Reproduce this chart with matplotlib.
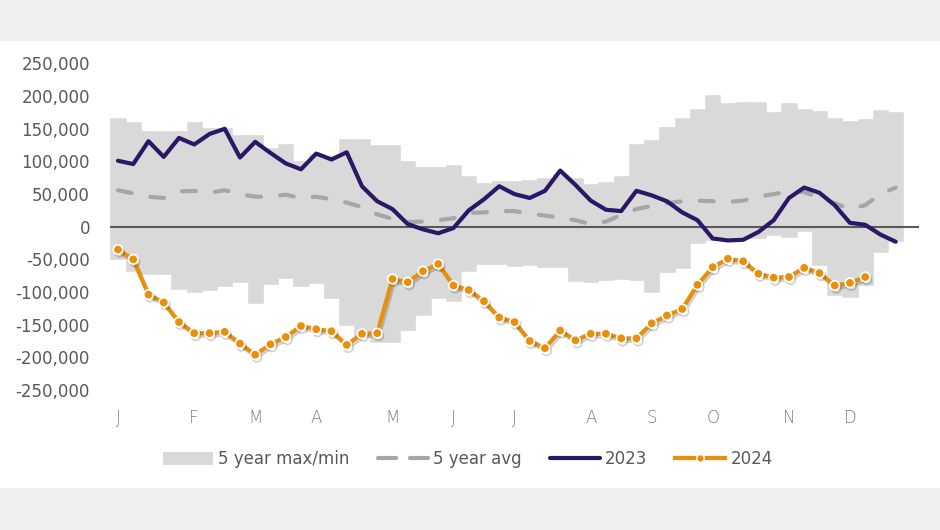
import numpy as np
import matplotlib
matplotlib.use("Agg")
import matplotlib.pyplot as plt
from matplotlib.lines import Line2D
from matplotlib.patches import Patch, Rectangle
from matplotlib.ticker import FuncFormatter, FixedLocator
import matplotlib.patheffects as pe

plt.rcParams['font.family'] = ['DejaVu Sans']
plt.rcParams['lines.scale_dashes'] = False

# ---- data (thousands) ----
weeks = np.arange(1, 53)
five_max = [166, 160, 147, 147, 147, 160, 151, 151, 141, 141, 121, 127, 100, 112, 108,
            134, 134, 125, 125, 101, 91, 92, 95, 78, 67, 70, 70, 72, 75, 80, 75, 65,
            69, 78, 127, 133, 152, 167, 180, 201, 189, 191, 191, 175, 189, 180, 177,
            166, 162, 165, 179, 176]
five_min = [-50, -68, -72, -72, -95, -100, -97, -90, -84, -117, -87, -78, -91, -86, -109,
            -150, -168, -177, -177, -158, -135, -109, -114, -68, -57, -57, -60, -58, -62,
            -62, -83, -84, -81, -80, -81, -100, -70, -63, -25, -20, -20, -18, -18, -12,
            -15, -6, -58, -104, -108, -89, -38, -22]
five_avg = [56, 51, 46, 44, 54, 55, 52, 56, 50, 46, 46, 49, 44, 46, 42, 37, 30, 19, 12, 7,
            8, 10, 13, 21, 22, 24, 24, 20, 17, 14, 10, 4, 8, 18, 27, 32, 36, 39, 40, 39,
            38, 40, 46, 50, 54, 53, 45, 36, 27, 33, 50, 60]
y2023 = [101, 96, 131, 107, 136, 126, 142, 150, 106, 130, 113, 97, 88, 112, 103, 114, 62,
         39, 27, 4, -4, -10, -2, 25, 42, 62, 50, 44, 55, 86, 64, 40, 26, 24, 55, 48, 39,
         22, 10, -18, -21, -20, -8, 10, 44, 60, 52, 33, 6, 3, -12, -23]
y2024 = [-35, -50, -104, -116, -146, -163, -163, -161, -179, -196, -180, -169, -152, -157,
         -160, -181, -164, -163, -80, -85, -68, -57, -90, -97, -114, -139, -146, -175,
         -186, -159, -174, -164, -164, -171, -171, -148, -136, -126, -89, -62, -49, -53,
         -72, -78, -77, -63, -71, -90, -86, -77]
month_weeks = [1, 6, 10, 14, 19, 23, 27, 32, 36, 40, 45, 49]
month_labels = ['J', 'F', 'M', 'A', 'M', 'J', 'J', 'A', 'S', 'O', 'N', 'D']
yticks = list(range(-250000, 250001, 50000))

scale = 1000
mx = np.array(five_max) * scale
mn = np.array(five_min) * scale
avg = np.array(five_avg) * scale
v23 = np.array(y2023) * scale
v24 = np.array(y2024) * scale

GRAY_AREA = '#d9d9d9'
AVG_C = '#a6a6a6'
C23 = '#2b1766'
C24 = '#e8900c'
TXT = '#595959'

fig = plt.figure(figsize=(9.4, 5.3), dpi=100)
fig.patch.set_facecolor('#f0f0f0')
fig.add_artist(Rectangle((0, 0.0787), 1, 0.8445, transform=fig.transFigure,
                         facecolor='white', edgecolor='none', zorder=-5))

ax = fig.add_axes([0.1174, 0.2642, 0.8598, 0.616])
ax.set_facecolor('none')

ax.bar(weeks, mx - mn, bottom=mn, width=1.0, color=GRAY_AREA, edgecolor=GRAY_AREA,
       linewidth=0.4, zorder=1)
ax.axhline(0, color='#595959', lw=1.5, zorder=2)
ax.plot(weeks, avg, color=AVG_C, lw=3.0, dashes=(10, 13.8), dash_capstyle='round',
        zorder=3)
ax.plot(weeks, v23, color=C23, lw=3.0, solid_capstyle='round', solid_joinstyle='round',
        zorder=4)
ax.plot(weeks[:len(v24)], v24, color=C24, lw=3.0, marker='o', markersize=6.8,
        markerfacecolor=C24, markeredgecolor='white', markeredgewidth=1.2,
        solid_joinstyle='round', zorder=5,
        path_effects=[pe.SimpleLineShadow(offset=(1.2, -1.8), shadow_color='#000000',
                                          alpha=0.18), pe.Normal()])

ax.set_xlim(0.5, 53.5)
ax.set_ylim(-250000, 250000)
ax.yaxis.set_major_locator(FixedLocator(yticks))
ax.yaxis.set_major_formatter(FuncFormatter(lambda v, p: f"{v:,.0f}"))
ax.set_xticks(month_weeks)
ax.set_xticklabels(month_labels)
for s in ax.spines.values():
    s.set_visible(False)
ax.tick_params(axis='y', length=0, pad=14.7, labelsize=12, labelcolor=TXT)
ax.tick_params(axis='x', length=0, pad=14, labelsize=12, labelcolor='#7f7f7f')
for t in ax.get_xticklabels():
    t.set_fontweight('light')

h_area = Patch(facecolor=GRAY_AREA, edgecolor='none')
h_avg = Line2D([], [], color=AVG_C, lw=3.0, dashes=(13, 10), dash_capstyle='round')
h_23 = Line2D([], [], color=C23, lw=3.0, solid_capstyle='round')
h_24 = Line2D([], [], color=C24, lw=3.0, marker='o', markersize=5.5,
              markerfacecolor=C24, markeredgecolor='white', markeredgewidth=1.0)
leg = fig.legend([h_area, h_avg, h_23, h_24],
                 ['5 year max/min', '5 year avg', '2023', '2024'],
                 loc='center left', bbox_to_anchor=(163 / 940, 1 - 459 / 530),
                 ncol=4, frameon=False, fontsize=12, handlelength=3.0,
                 handleheight=0.85, handletextpad=0.3, columnspacing=1.7,
                 borderpad=0, borderaxespad=0, numpoints=1)
for t in leg.get_texts():
    t.set_color(TXT)

fig.savefig('out.png', dpi=100, facecolor=fig.get_facecolor())
